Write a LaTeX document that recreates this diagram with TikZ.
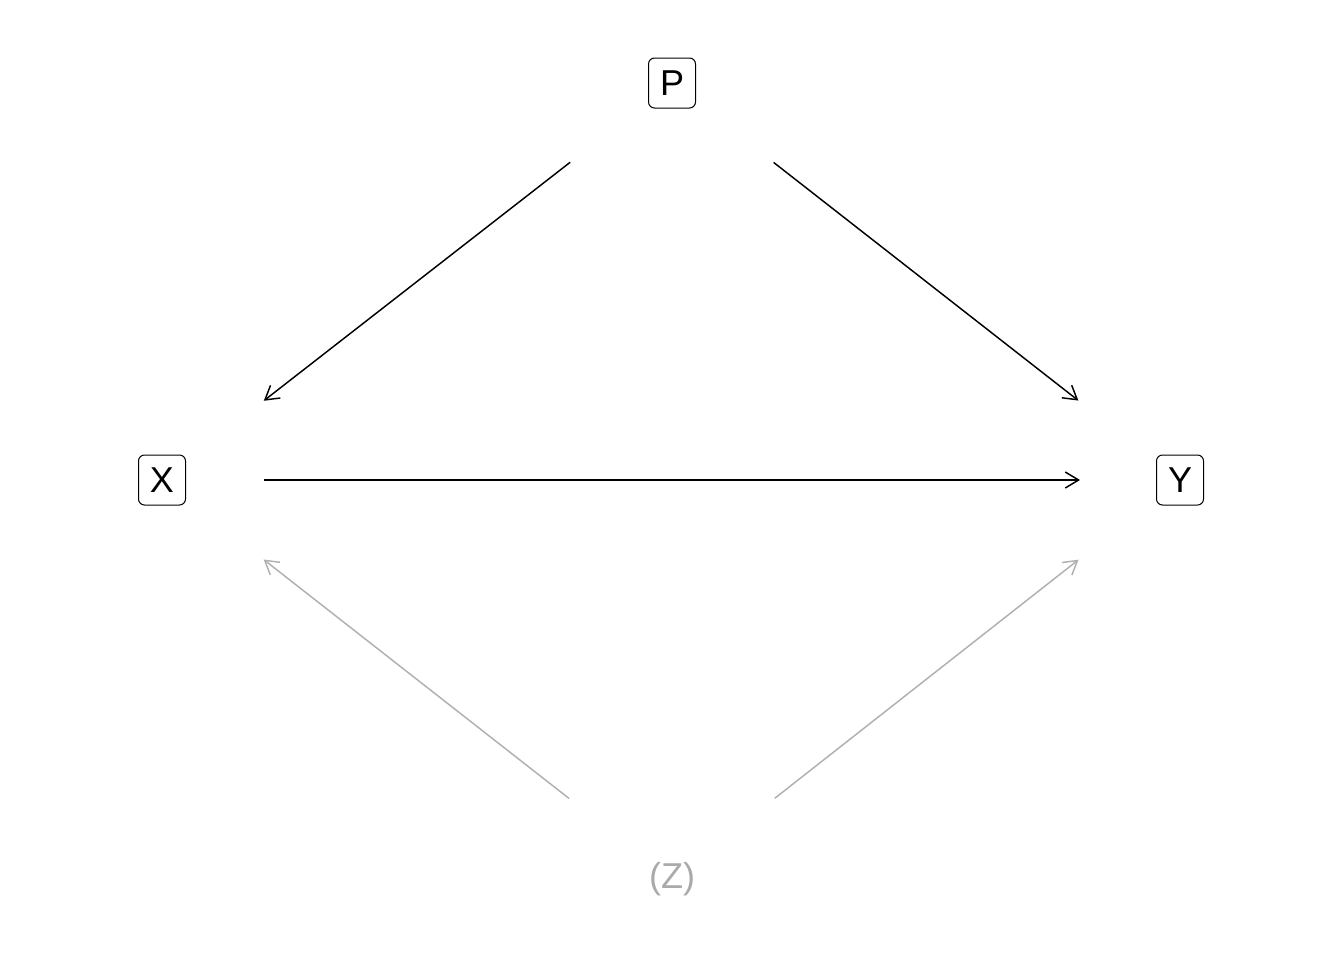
\documentclass[tikz,border=0pt]{standalone}
\usepackage{fontspec}
\setmainfont{Liberation Sans}
\usetikzlibrary{arrows.meta}
\definecolor{zgray}{RGB}{170,170,170}
\definecolor{egray}{RGB}{176,176,176}
\tikzset{
  var/.style={draw=black, line width=0.75pt, rounded corners=4.5pt, minimum width=35.25pt, minimum height=37.5pt, inner sep=0pt, font=\fontsize{27}{29}\selectfont},
  lat/.style={text=zgray, inner sep=0pt, minimum width=35.25pt, minimum height=37.5pt, font=\fontsize{27}{29}\selectfont},
  edge/.style={line width=1.1pt, -{Straight Barb[length=10pt,width=12pt,line width=1.1pt]}},
  gedge/.style={edge, draw=egray}
}
\begin{document}
\begin{tikzpicture}[x=0.75pt,y=-0.75pt]
\useasboundingbox (0,0) rectangle (1344,960);
\node[var] (P) at (672,83) {P};
\node[var] (X) at (162,480) {X};
\node[var] (Y) at (1180,480) {Y};
\node[lat] (Z) at (672,879) {(Z)};
\draw[edge, shorten <=96.75pt, shorten >=96.75pt] (P.center) -- (X.center);
\draw[edge, shorten <=96.75pt, shorten >=96.75pt] (P.center) -- (Y.center);
\draw[edge, shorten <=76.5pt, shorten >=75pt] (X.center) -- (Y.center);
\draw[gedge, shorten <=98pt, shorten >=96.75pt] (Z.center) -- (X.center);
\draw[gedge, shorten <=98pt, shorten >=96.75pt] (Z.center) -- (Y.center);
\end{tikzpicture}
\end{document}
